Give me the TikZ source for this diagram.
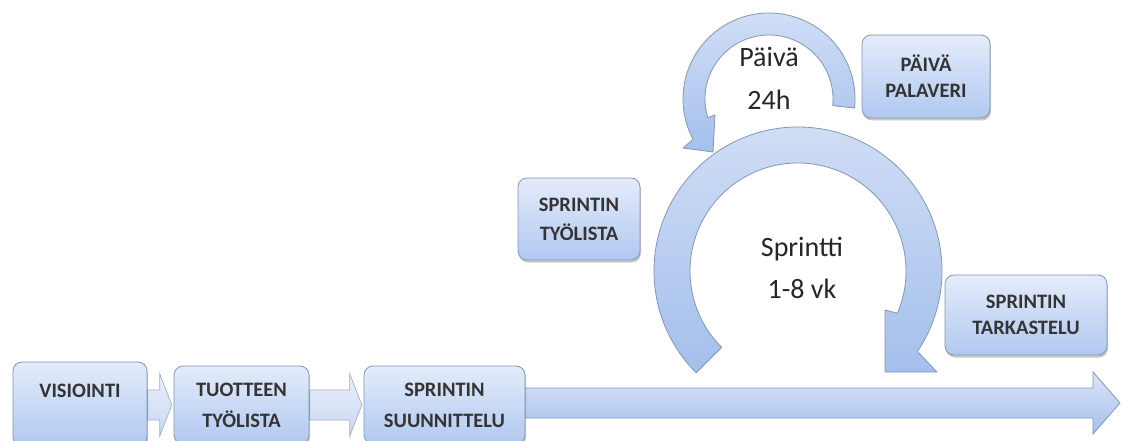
\documentclass[tikz,border=0pt]{standalone}
\usepackage{fontspec}
\setmainfont{Carlito}
\usetikzlibrary{calc,shadows}

\definecolor{boxtop}{RGB}{228,236,250}
\definecolor{boxbot}{RGB}{176,200,240}
\definecolor{edge}{RGB}{132,150,180}
\definecolor{arctop}{RGB}{210,223,246}
\definecolor{arcbot}{RGB}{164,191,236}
\definecolor{paletop}{RGB}{236,241,251}
\definecolor{palebot}{RGB}{198,214,243}
\definecolor{paleedge}{RGB}{165,174,190}
\definecolor{ink}{RGB}{52,52,52}

% block arrow: [style]{start}{tip}{head length}
\newcommand\BlockArrow[4][]{%
  \path[#1] ($(#2 |- #3)+(0,-15)$) -- ($(#3)+(-#4,-15)$) -- ($(#3)+(-#4,-31)$)
    -- (#3) -- ($(#3)+(-#4,31)$) -- ($(#3)+(-#4,15)$) -- ($(#2 |- #3)+(0,15)$) -- cycle;}

\begin{document}
\begin{tikzpicture}[x=1pt,y=-1pt,
  stepbox/.style={draw=edge, line width=0.8pt, rounded corners=9pt,
    top color=boxtop, bottom color=boxbot,
    drop shadow={shadow xshift=1pt, shadow yshift=-2.5pt, opacity=0.22, fill=black},
    text=ink, align=center, inner sep=0pt,
    font=\fontsize{20.5}{27}\selectfont\bfseries},
  boxlabel/.style={text=ink, inner sep=0pt, font=\fontsize{20.5}{27}\selectfont\bfseries},
  ringarrow/.style={draw=edge, line width=0.8pt, line join=round,
    top color=arctop, bottom color=arcbot},
  timeline/.style={draw=edge, line width=0.8pt, line join=miter,
    top color=arctop!80!white, bottom color=arcbot},
  linkarrow/.style={draw=paleedge, line width=0.7pt, top color=paletop, bottom color=palebot},
  bigtext/.style={text=black!85, inner sep=0pt, anchor=base, font=\fontsize{28}{34}\selectfont}]

\useasboundingbox (0,0) rectangle (1121,441);
\clip (0,0) rectangle (1121,441);

% timeline boxes (they run past the lower edge)
\coordinate (visio-c) at (80,404);
\coordinate (tuot-c) at (241.5,405);
\coordinate (suun-c) at (444.5,405);

% invisible placeholders to anchor the connecting arrows
\path (visio-c) node[minimum width=134pt, minimum height=84pt, inner sep=0pt] (visio) {};
\path (tuot-c) node[minimum width=135pt, minimum height=78pt, inner sep=0pt] (tuot) {};
\path (suun-c) node[minimum width=161pt, minimum height=78pt, inner sep=0pt] (suun) {};

\coordinate (a1tip) at ([xshift=-2pt]tuot.west);
\coordinate (a2tip) at ([xshift=-2pt]suun.west);
\coordinate (tlend) at (1120,403);

% connecting block arrows
\BlockArrow[linkarrow]{visio.east}{a1tip}{12}
\BlockArrow[linkarrow]{tuot.east}{a2tip}{12}
\BlockArrow[timeline]{suun.center}{tlend}{27}

% boxes
\node[stepbox, minimum width=134pt, minimum height=84pt] (visiobox) at (visio-c) {};
\node[boxlabel] (visiotext) at (80,391) {VISIOINTI};
\node[stepbox, minimum width=135pt, minimum height=78pt, font=\fontsize{20.5}{31}\selectfont\bfseries] (tuotbox) at (tuot-c) {TUOTTEEN\\TYÖLISTA};
\node[stepbox, minimum width=161pt, minimum height=78pt, font=\fontsize{20.5}{31}\selectfont\bfseries] (suunbox) at (suun-c) {SPRINTIN\\SUUNNITTELU};

\node[stepbox, minimum width=122pt, minimum height=82pt, font=\fontsize{20.5}{29}\selectfont\bfseries] (splist) at (579,219) {SPRINTIN\\TYÖLISTA};
\node[stepbox, minimum width=128pt, minimum height=83pt, font=\fontsize{20.5}{26}\selectfont\bfseries] (palaveri) at (926,76.5) {PÄIVÄ\\PALAVERI};
\node[stepbox, minimum width=162pt, minimum height=80pt, font=\fontsize{20.5}{26}\selectfont\bfseries] (tark) at (1026,315) {SPRINTIN\\TARKASTELU};

% sprint cycle: clockwise ring arrow
\coordinate (sc) at (798,271);
\path[ringarrow]
  ([shift={(sc)}]135:144) arc[start angle=135, end angle=394, radius=144]
  -- (937,372) -- (885,372) -- (885,310)
  -- ([shift={(sc)}]383:108) arc[start angle=383, end angle=135, radius=108]
  -- cycle;

% daily cycle: counter-clockwise ring arrow
\coordinate (dc) at (769,99);
\path[ringarrow]
  ([shift={(dc)}]6:86) arc[start angle=6, end angle=-208, radius=86]
  -- (683,148) -- (713,152) -- (715,115)
  -- ([shift={(dc)}]-197:64) arc[start angle=-197, end angle=6, radius=64]
  -- cycle;

% cycle labels
\node[bigtext] (paiva) at (769,67) {Päivä};
\node[bigtext] (tunnit) at (769,110) {24h};
\node[bigtext] (sprintti) at (802,256) {Sprintti};
\node[bigtext] (viikot) at (802,298) {1-8 vk};

\end{tikzpicture}
\end{document}
